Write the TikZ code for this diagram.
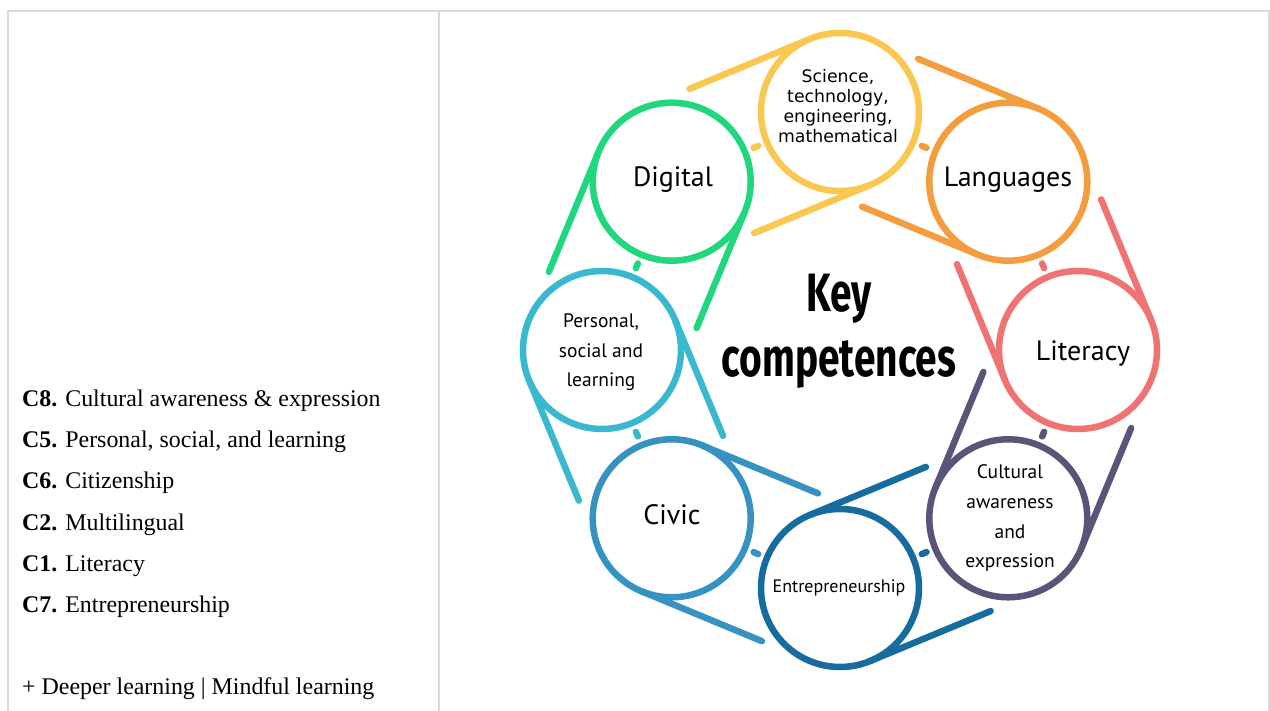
\documentclass[tikz,border=0pt]{standalone}
\usepackage{fontspec}
\setmainfont{Liberation Serif}
\newfontfamily\labelfont{PT Sans}
\newfontfamily\scifont{DejaVu Sans}
\newfontfamily\keyfont[FakeStretch=0.72]{Fira Sans}
\usetikzlibrary{calc}

\definecolor{frameGray}{HTML}{D9D9D9}
\definecolor{cSci}{HTML}{FAC750}
\definecolor{cLang}{HTML}{F39D3E}
\definecolor{cLit}{HTML}{F07373}
\definecolor{cCult}{HTML}{5A5478}
\definecolor{cEnt}{HTML}{166C9E}
\definecolor{cCiv}{HTML}{3692C1}
\definecolor{cPers}{HTML}{3AB8CF}
\definecolor{cDig}{HTML}{20D77F}

\begin{document}
\begin{tikzpicture}[x=1pt,y=1pt,
  frame/.style={draw=frameGray,line width=2pt},
  listitem/.style={anchor=base west,inner sep=0pt,font=\fontsize{23.9}{28}\selectfont},
  ring/.style={circle,line width=6.5pt,minimum size=158pt,inner sep=0pt,outer sep=0pt},
  belt/.style={line width=6.5pt,line cap=round},
  link/.style={line width=6.5pt,line cap=round},
  biglabel/.style={anchor=base,inner sep=0pt,font=\labelfont\fontsize{28}{34}\selectfont},
  smalllabel/.style={anchor=base,inner sep=0pt,align=center,font=\labelfont\fontsize{19.5}{29.8}\selectfont},
]
\useasboundingbox (0,0) rectangle (1270,711);

% table frame
\draw[frame] (8,0) -- (8,699.7) -- (1269,699.7) -- (1269,0);
\draw[frame] (438.7,0) -- (438.7,699.7);

% competence list
\node[listitem] (l8) at (22,304) {\textbf{C8.} Cultural awareness \& expression};
\node[listitem] (l5) at (22,263) {\textbf{C5.} Personal, social, and learning};
\node[listitem] (l6) at (22,222) {\textbf{C6.} Citizenship};
\node[listitem] (l2) at (22,180) {\textbf{C2.} Multilingual};
\node[listitem] (l1) at (22,139) {\textbf{C1.} Literacy};
\node[listitem] (l7) at (22,98)  {\textbf{C7.} Entrepreneurship};
\node[listitem] (lx) at (22,16)  {+ Deeper learning | Mindful learning};

% ring of competences
\coordinate (O) at (840,361);
\foreach \n/\a/\c in {sci/90/cSci, lang/45/cLang, lit/0/cLit, cult/-45/cCult,
                      ent/-90/cEnt, civ/-135/cCiv, pers/180/cPers, dig/135/cDig}
  \path (O) ++(\a:238) node[ring,draw=\c] (\n) {};

% belts: two parallel tangents running towards the next circle
\foreach \n/\a/\c/\m in {sci/90/cSci/dig, lang/45/cLang/sci, lit/0/cLit/lang,
                         cult/-45/cCult/lit, ent/-90/cEnt/cult, civ/-135/cCiv/ent,
                         pers/180/cPers/civ, dig/135/cDig/pers}
{
  \pgfmathsetmacro\ao{mod(\a+22.5+720,360)}
  \pgfmathsetmacro\ai{mod(\a+202.5+720,360)}
  \pgfmathsetmacro\ad{\a+112.5}
  \draw[belt,\c] (\n.\ao) -- ++(\ad:131);
  \draw[belt,\c] (\n.\ai) -- ++(\ad:125);
  \draw[link,\c] ($(\n)!0.486!(\m)$) -- ($(\n)!0.514!(\m)$);
}

% labels (multi-line nodes sit on the baseline of their last line)
\node[biglabel] (tdig) at (673,524) {Digital};
\node[biglabel] (tlang) at (1008,524) {Languages};
\node[biglabel] (tlit) at (1083,350) {Literacy};
\node[biglabel] (tciv) at (672,186) {Civic};
\node[anchor=base,inner sep=0pt,font=\labelfont\fontsize{18}{22}\selectfont] (tent) at (839,118) {Entrepreneurship};
\node[smalllabel] (tpers) at (601,324) {Personal,\\social and\\learning};
\node[smalllabel] (tcult) at (1010,143) {Cultural\\awareness\\and\\expression};
\node[anchor=base,inner sep=0pt,align=center,font=\scifont\fontsize{17.3}{20}\selectfont] (tsci) at (838,568)
  {Science,\\technology,\\engineering,\\mathematical};
\node[anchor=base,inner sep=0pt,align=center,font=\keyfont\bfseries\fontsize{54}{65}\selectfont] (tkey) at (839,334)
  {Key\\competences};
\end{tikzpicture}
\end{document}
